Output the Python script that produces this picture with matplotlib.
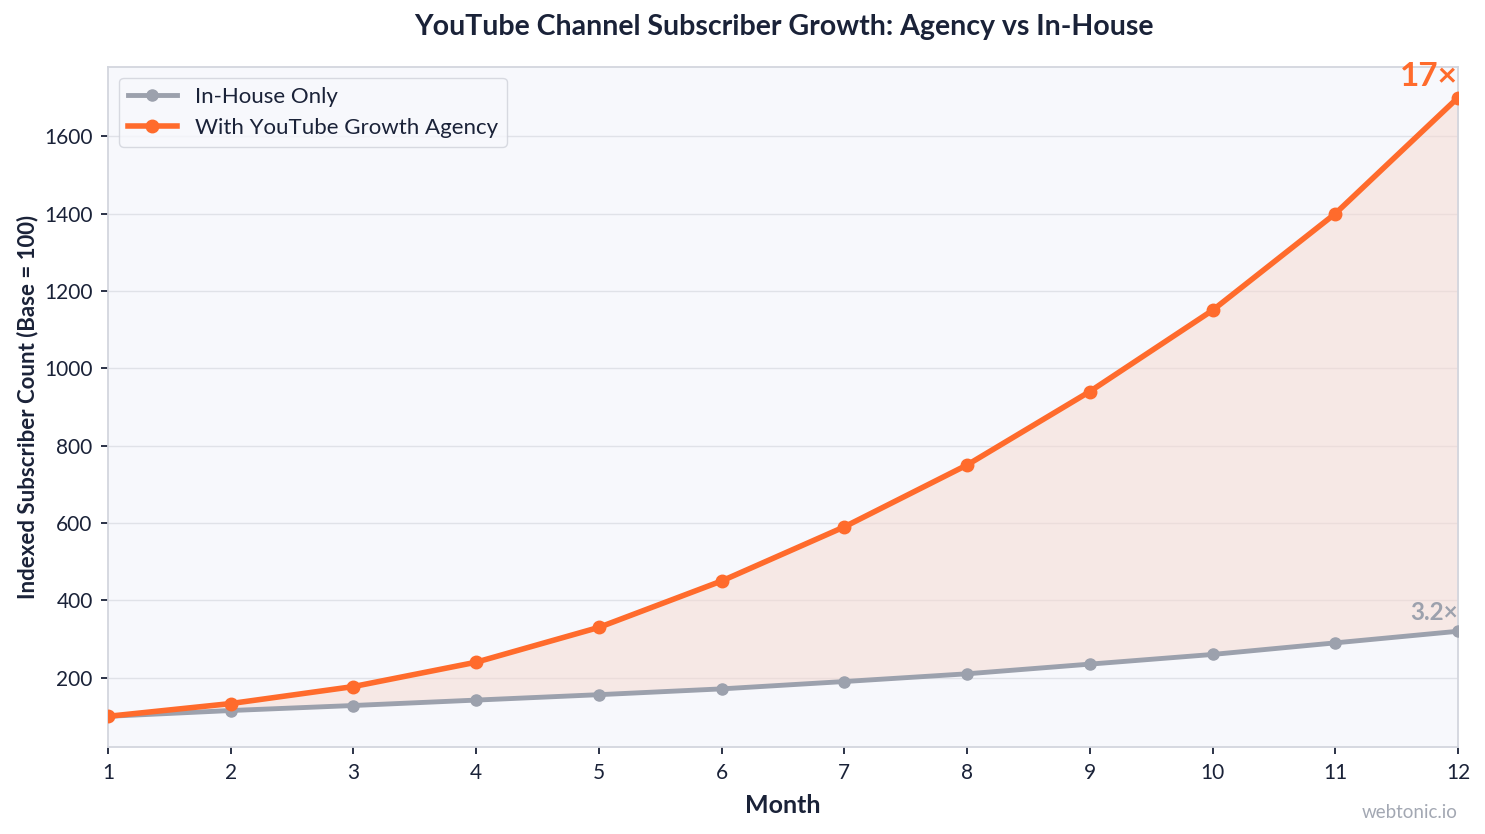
import matplotlib
matplotlib.use("Agg")
from matplotlib import pyplot as plt

plt.rcParams['font.family'] = ['Lato', 'DejaVu Sans']

months = [1, 2, 3, 4, 5, 6, 7, 8, 9, 10, 11, 12]
in_house = [100, 115, 128, 142, 156, 171, 190, 210, 235, 260, 290, 320]
agency = [100, 133, 177, 240, 330, 450, 590, 750, 940, 1150, 1400, 1700]

dark = '#1a2238'
grey = '#9ca1ad'
orange = '#ff6b2c'

fig, ax = plt.subplots(figsize=(14.85, 8.34), dpi=100)
fig.subplots_adjust(left=0.0727, right=0.9818, top=0.92, bottom=0.104)
ax.set_facecolor('#f7f8fc')

ax.fill_between(months, in_house, agency, color='#f6d9cf', alpha=0.5, zorder=1)
ax.plot(months, in_house, color=grey, lw=3.5, marker='o', ms=8, label='In-House Only', zorder=3)
ax.plot(months, agency, color=orange, lw=4, marker='o', ms=9, label='With YouTube Growth Agency', zorder=4)

ax.set_xlim(1, 12)
ax.set_xticks(months)
ax.set_yticks([200, 400, 600, 800, 1000, 1200, 1400, 1600])
ax.grid(axis='y', color='#e0e2e8', lw=1)
ax.set_axisbelow(True)
for s in ax.spines.values():
    s.set_color('#d3d6de')
    s.set_linewidth(1.3)
ax.tick_params(colors=dark, labelsize=15, length=5, width=1.3, pad=6)

ax.set_xlabel('Month', fontsize=18, fontweight='bold', color=dark, labelpad=8)
ax.set_ylabel('Indexed Subscriber Count (Base = 100)', fontsize=16, fontweight='bold', color=dark, labelpad=4)
fig.suptitle('YouTube Channel Subscriber Growth: Agency vs In-House', fontsize=20.5,
             fontweight='bold', color=dark, x=0.5278, y=1 - 27 / 834, va='center')

ax.annotate('17\u00d7', (months[-1], agency[-1]), xytext=(0, 5), textcoords='offset points',
            ha='right', va='bottom', fontsize=24, fontweight='bold', color=orange)
ax.annotate('3.2\u00d7', (months[-1], in_house[-1]), xytext=(0, 5), textcoords='offset points',
            ha='right', va='bottom', fontsize=17.5, fontweight='bold', color=grey)

leg = ax.legend(loc='upper left', fontsize=16, frameon=True, fancybox=True, handlelength=2.2)
leg.get_frame().set_edgecolor('#cfd2da')
leg.get_frame().set_facecolor('#f7f8fc')
for t in leg.get_texts():
    t.set_color(dark)

fig.text(0.9818, 0.015, 'webtonic.io', ha='right', va='bottom', fontsize=13.5, color='#a3a8b3')

fig.savefig('out.png')
